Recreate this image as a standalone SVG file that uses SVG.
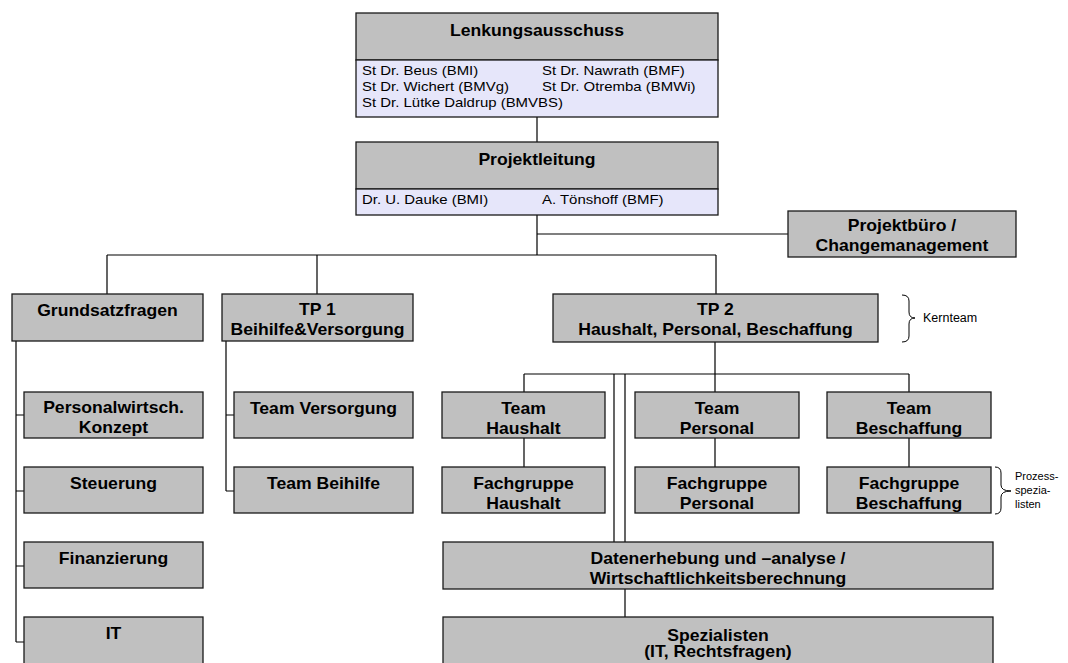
<svg xmlns="http://www.w3.org/2000/svg" width="1068" height="663" viewBox="0 0 1068 663">
  <style>
    .box { fill: #c0c0c0; stroke: #1a1a1a; stroke-width: 1.3; }
    .sub { fill: #e6e6fa; stroke: #1a1a1a; stroke-width: 1.3; }
    .lnk { fill: none; stroke: #000; stroke-width: 1.2; }
    .brace { fill: none; stroke: #000; stroke-width: 1; }
    .h { font-family: "Liberation Sans", Arial, sans-serif; font-weight: bold; font-size: 16px; fill: #000; text-anchor: middle;
         transform-box: fill-box; transform-origin: 50% 50%; transform: scaleX(1.1); }
    .m { font-family: "Liberation Sans", Arial, sans-serif; font-size: 13px; fill: #000;
         transform-box: fill-box; transform-origin: 0% 50%; transform: scaleX(1.15); }
    .s { font-family: "Liberation Sans", Arial, sans-serif; font-size: 11px; fill: #000; }
  </style>

  <!-- connectors -->
  <g id="connectors">
    <path class="lnk" d="M537 117 V142 M537 215 V255 M537 234 H788"/>
    <path class="lnk" d="M107 255 H716 M107 255 V294 M317 255 V294 M716 255 V294"/>
    <!-- Grundsatzfragen spine -->
    <path class="lnk" d="M16 341 V642 M16 415 H24 M16 491 H24 M16 566 H24 M16 642 H24"/>
    <!-- TP 1 spine -->
    <path class="lnk" d="M226 341 V491 M226 415 H234 M226 491 H234"/>
    <!-- TP 2 branches -->
    <path class="lnk" d="M715 342 V374 M524 374 H909 M524 374 V392 M715 374 V392 M909 374 V392"/>
    <path class="lnk" d="M524 438 V467 M715 438 V467 M909 438 V467"/>
    <path class="lnk" d="M614 374 V542 M625 374 V542 M625 589 V617"/>
  </g>

  <g id="lenkungsausschuss">
    <rect class="box" x="356" y="13" width="362" height="47"/>
    <rect class="sub" x="356" y="60" width="362" height="57"/>
    <text class="h" x="537" y="36">Lenkungsausschuss</text>
    <text class="m" x="362" y="75.5">St Dr. Beus (BMI)</text>
    <text class="m" x="542" y="75.5">St Dr. Nawrath (BMF)</text>
    <text class="m" x="362" y="91.5">St Dr. Wichert (BMVg)</text>
    <text class="m" x="542" y="91.5">St Dr. Otremba (BMWi)</text>
    <text class="m" x="362" y="107.5">St Dr. Lütke Daldrup (BMVBS)</text>
  </g>

  <g id="projektleitung">
    <rect class="box" x="356" y="142" width="362" height="47"/>
    <rect class="sub" x="356" y="189" width="362" height="26"/>
    <text class="h" x="537" y="165">Projektleitung</text>
    <text class="m" x="362" y="204.5">Dr. U. Dauke (BMI)</text>
    <text class="m" x="542" y="204.5">A. Tönshoff (BMF)</text>
  </g>

  <g id="projektbuero">
    <rect class="box" x="788" y="211" width="228" height="46"/>
    <text class="h" x="902" y="231.5">Projektbüro /</text>
    <text class="h" x="902" y="251.5">Changemanagement</text>
  </g>

  <g id="grundsatzfragen">
    <rect class="box" x="12" y="294" width="191" height="47"/>
    <text class="h" x="107.5" y="316">Grundsatzfragen</text>
  </g>

  <g id="tp1">
    <rect class="box" x="222" y="294" width="191" height="47"/>
    <text class="h" x="317.5" y="315">TP 1</text>
    <text class="h" x="317.5" y="335">Beihilfe&amp;Versorgung</text>
  </g>

  <g id="tp2">
    <rect class="box" x="553" y="294" width="325" height="48"/>
    <text class="h" x="715.5" y="315">TP 2</text>
    <text class="h" x="715.5" y="335">Haushalt, Personal, Beschaffung</text>
  </g>

  <g id="personalwirtschaft">
    <rect class="box" x="24" y="392" width="179" height="46"/>
    <text class="h" x="113.5" y="413">Personalwirtsch.</text>
    <text class="h" x="113.5" y="433">Konzept</text>
  </g>

  <g id="steuerung">
    <rect class="box" x="24" y="467" width="179" height="46"/>
    <text class="h" x="113.5" y="489">Steuerung</text>
  </g>

  <g id="finanzierung">
    <rect class="box" x="24" y="542" width="179" height="46"/>
    <text class="h" x="113.5" y="564">Finanzierung</text>
  </g>

  <g id="it">
    <rect class="box" x="24" y="617" width="179" height="60"/>
    <text class="h" x="113.5" y="639">IT</text>
  </g>

  <g id="team-versorgung">
    <rect class="box" x="234" y="392" width="179" height="46"/>
    <text class="h" x="323.5" y="414">Team Versorgung</text>
  </g>

  <g id="team-beihilfe">
    <rect class="box" x="234" y="467" width="179" height="46"/>
    <text class="h" x="323.5" y="489">Team Beihilfe</text>
  </g>

  <g id="team-haushalt">
    <rect class="box" x="442" y="392" width="163" height="46"/>
    <text class="h" x="523.5" y="414">Team</text>
    <text class="h" x="523.5" y="434">Haushalt</text>
  </g>

  <g id="team-personal">
    <rect class="box" x="635" y="392" width="164" height="46"/>
    <text class="h" x="717" y="414">Team</text>
    <text class="h" x="717" y="434">Personal</text>
  </g>

  <g id="team-beschaffung">
    <rect class="box" x="827" y="392" width="164" height="46"/>
    <text class="h" x="909" y="414">Team</text>
    <text class="h" x="909" y="434">Beschaffung</text>
  </g>

  <g id="fachgruppe-haushalt">
    <rect class="box" x="442" y="467" width="163" height="46"/>
    <text class="h" x="523.5" y="489">Fachgruppe</text>
    <text class="h" x="523.5" y="509">Haushalt</text>
  </g>

  <g id="fachgruppe-personal">
    <rect class="box" x="635" y="467" width="164" height="46"/>
    <text class="h" x="717" y="489">Fachgruppe</text>
    <text class="h" x="717" y="509">Personal</text>
  </g>

  <g id="fachgruppe-beschaffung">
    <rect class="box" x="827" y="467" width="164" height="46"/>
    <text class="h" x="909" y="489">Fachgruppe</text>
    <text class="h" x="909" y="509">Beschaffung</text>
  </g>

  <g id="datenerhebung">
    <rect class="box" x="443" y="542" width="550" height="47"/>
    <text class="h" x="718" y="564">Datenerhebung und –analyse /</text>
    <text class="h" x="718" y="584">Wirtschaftlichkeitsberechnung</text>
  </g>

  <g id="spezialisten">
    <rect class="box" x="443" y="617" width="550" height="60"/>
    <text class="h" x="718" y="641">Spezialisten</text>
    <text class="h" x="718" y="657">(IT, Rechtsfragen)</text>
  </g>

  <!-- annotation braces -->
  <g id="kernteam">
    <path class="brace" d="M902 295 Q909 295 909 301 V312 Q909 318 915 318 Q909 318 909 324 V336 Q909 342 902 342"/>
    <text class="s" x="923" y="322" style="font-size:12.5px">Kernteam</text>
  </g>

  <g id="prozessspezialisten">
    <path class="brace" d="M995 467 Q1001 467 1001 473 V485 Q1001 491 1011 491 Q1001 491 1001 497 V508 Q1001 514 995 514"/>
    <text class="s" x="1015" y="480">Prozess-</text>
    <text class="s" x="1015" y="494">spezia-</text>
    <text class="s" x="1015" y="508">listen</text>
  </g>
</svg>
